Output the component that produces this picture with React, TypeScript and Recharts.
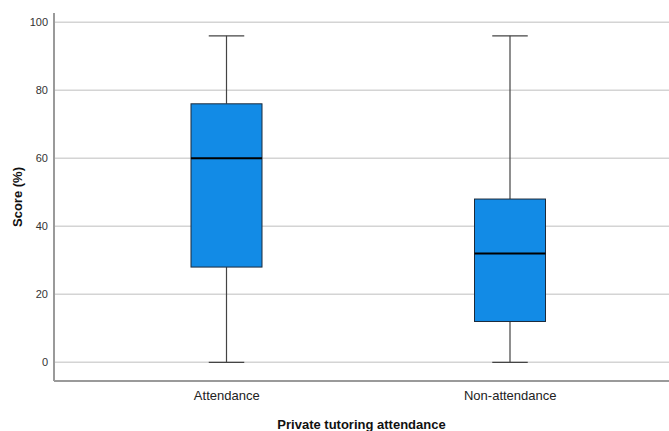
import React from "react";
import { ComposedChart, Bar, XAxis, YAxis, CartesianGrid, Label } from "recharts";

const groups = ["Attendance", "Non-attendance"];
const minValues = [0, 0];
const q1Values = [28, 12];
const medianValues = [60, 32];
const q3Values = [76, 48];
const maxValues = [96, 96];
const yTicks = [0, 20, 40, 60, 80, 100];

const data = groups.map((g, i) => ({
  group: g,
  min: minValues[i],
  q1: q1Values[i],
  median: medianValues[i],
  q3: q3Values[i],
  max: maxValues[i],
  range: [minValues[i], maxValues[i]],
}));

const font = "'Liberation Sans', Arial, sans-serif";

// box drawn inside the [min, max] bar, scaled from the bar's own pixel extent
const BoxShape = (props: any) => {
  const { x, y, width, height, payload } = props;
  const { min, q1, median, q3, max } = payload;
  const span = max - min || 1;
  const toY = (v: number) => y + ((max - v) / span) * height;
  const cx = x + width / 2;
  const capW = width / 2;
  return (
    <g>
      <line x1={cx} x2={cx} y1={toY(max)} y2={toY(q3)} stroke="#444" strokeWidth={1.2} />
      <line x1={cx} x2={cx} y1={toY(q1)} y2={toY(min)} stroke="#444" strokeWidth={1.2} />
      <line x1={cx - capW / 2} x2={cx + capW / 2} y1={toY(max)} y2={toY(max)} stroke="#444" strokeWidth={1.2} />
      <line x1={cx - capW / 2} x2={cx + capW / 2} y1={toY(min)} y2={toY(min)} stroke="#444" strokeWidth={1.2} />
      <rect x={x} y={toY(q3)} width={width} height={toY(q1) - toY(q3)} fill="#128BE6" stroke="#1c2a3a" strokeWidth={1} />
      <line x1={x} x2={x + width} y1={toY(median)} y2={toY(median)} stroke="#000" strokeWidth={2} />
    </g>
  );
};

export default function App() {
  return (
    <div style={{ position: "absolute", left: 0, top: 0, background: "#fff" }}>
      <ComposedChart
        width={669}
        height={431}
        data={data}
        margin={{ top: 13, right: 0, left: 0, bottom: 0 }}
      >
        <CartesianGrid vertical={false} horizontalValues={yTicks} stroke="#d4d4d4" strokeWidth={1.5} />
        <XAxis
          dataKey="group"
          height={50}
          padding={{ left: 31, right: 17 }}
          axisLine={{ stroke: "#9a9a9a", strokeWidth: 2 }}
          tickLine={false}
          tickMargin={4}
          tick={{ fill: "#222", fontSize: 13, fontFamily: font }}
        >
          <Label
            value="Private tutoring attendance"
            position="insideBottom"
            offset={2}
            style={{ fill: "#111", fontSize: 13, fontWeight: "bold", fontFamily: font }}
          />
        </XAxis>
        <YAxis
          width={54}
          domain={[-5.5, 102.7]}
          ticks={yTicks}
          allowDataOverflow
          axisLine={{ stroke: "#9a9a9a", strokeWidth: 2 }}
          tickLine={false}
          tickMargin={0}
          tick={{ fill: "#333", fontSize: 11, fontFamily: font }}
        >
          <Label
            value="Score (%)"
            angle={-90}
            position="insideLeft"
            offset={17}
            style={{ fill: "#111", fontSize: 13, fontWeight: "bold", fontFamily: font, textAnchor: "middle" }}
          />
        </YAxis>
        <Bar dataKey="range" barSize={71} shape={<BoxShape />} isAnimationActive={false} />
      </ComposedChart>
    </div>
  );
}
